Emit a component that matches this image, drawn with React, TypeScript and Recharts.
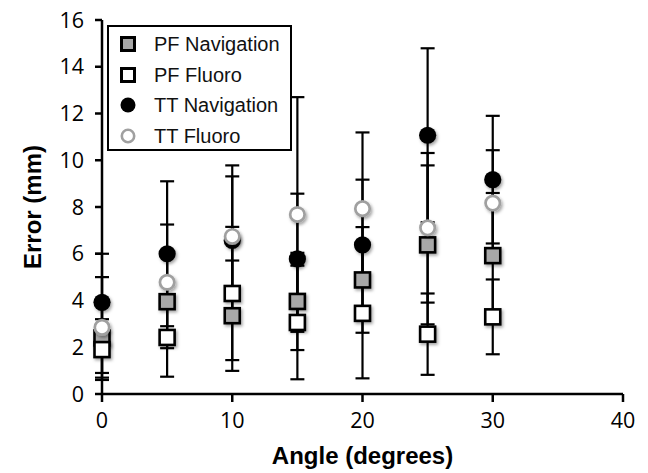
import React from "react";
import { ScatterChart, Scatter, XAxis, YAxis, ErrorBar, Legend, Label } from "recharts";

// values (mean and SD per angle)
const angles = [0, 5, 10, 15, 20, 25, 30];
const pfNavMean = [2.4, 3.95, 3.35, 3.96, 4.88, 6.38, 5.92];
const pfNavSd = [1.5, 1.99, 2.36, 2.08, 2.26, 3.4, 2.68];
const pfFluoroMean = [1.9, 2.42, 4.3, 3.06, 3.45, 2.56, 3.3];
const pfFluoroSd = [1.3, 1.68, 2.85, 2.43, 2.78, 1.74, 1.6];
const ttNavMean = [3.92, 6.0, 6.57, 5.78, 6.38, 11.07, 9.17];
const ttNavSd = [2.08, 3.1, 3.21, 2.79, 2.79, 3.72, 2.73];
const ttFluoroMean = [2.85, 4.78, 6.74, 7.68, 7.93, 7.11, 8.17];
const ttFluoroSd = [2.15, 2.47, 2.57, 5.02, 3.26, 3.2, 2.26];

const xTicks = [0, 10, 20, 30, 40];
const yTicks = [0, 2, 4, 6, 8, 10, 12, 14, 16];

const toPoints = (means: number[], sds: number[]) =>
  angles.map((a, i) => ({ x: a, y: means[i], err: sds[i] }));

interface SeriesDef {
  name: string;
  points: { x: number; y: number; err: number }[];
  kind: "square" | "circle";
  fill: string;
  stroke: string;
}

const series: SeriesDef[] = [
  { name: "PF Navigation", points: toPoints(pfNavMean, pfNavSd), kind: "square", fill: "#a8a8a8", stroke: "#000" },
  { name: "PF Fluoro", points: toPoints(pfFluoroMean, pfFluoroSd), kind: "square", fill: "#fff", stroke: "#000" },
  { name: "TT Navigation", points: toPoints(ttNavMean, ttNavSd), kind: "circle", fill: "#000", stroke: "#000" },
  { name: "TT Fluoro", points: toPoints(ttFluoroMean, ttFluoroSd), kind: "circle", fill: "#fff", stroke: "#a0a0a0" },
];

const makeShape = (s: SeriesDef) => (props: any) => {
  const { cx, cy } = props;
  if (cx == null || cy == null) return <g />;
  if (s.kind === "square") {
    return (
      <rect x={cx - 7.5} y={cy - 7.5} width={15} height={15} fill={s.fill} stroke={s.stroke}
        strokeWidth={2.6} filter="url(#mshadow)" />
    );
  }
  const filled = s.fill === s.stroke;
  return (
    <circle cx={cx} cy={cy} r={filled ? 8.6 : 7.2} fill={s.fill} stroke={s.stroke}
      strokeWidth={filled ? 0 : 2.7} filter="url(#mshadow)" />
  );
};

const emptyShape = () => <g />;

const LegendMarker = ({ s }: { s: SeriesDef }) => (
  <svg width={16} height={16} style={{ display: "block" }}>
    {s.kind === "square" ? (
      <rect x={1.5} y={1.5} width={13} height={13} fill={s.fill} stroke={s.stroke} strokeWidth={3} />
    ) : s.fill === s.stroke ? (
      <circle cx={8} cy={8} r={7.5} fill={s.fill} />
    ) : (
      <circle cx={8} cy={8} r={6.2} fill={s.fill} stroke={s.stroke} strokeWidth={2.6} />
    )}
  </svg>
);

const LegendBox = () => (
  <div
    style={{
      width: 181,
      height: 120,
      border: "2px solid #000",
      background: "#fff",
      paddingTop: 1.5,
      boxSizing: "content-box",
      fontFamily: "'Liberation Sans', Arial, sans-serif",
      fontSize: 20,
      color: "#111",
    }}
  >
    {series.map((s) => (
      <div key={s.name} style={{ height: 30.7, display: "flex", alignItems: "center", paddingLeft: 11 }}>
        <LegendMarker s={s} />
        <span style={{ marginLeft: 18, lineHeight: "20px" }}>{s.name}</span>
      </div>
    ))}
  </div>
);

const XTitle = (props: any) => {
  const vb = props.viewBox || {};
  return (
    <text x={vb.x + vb.width / 2} y={vb.y + vb.height - 9} textAnchor="middle"
      style={{ fontFamily: "'Liberation Sans', Arial, sans-serif", fontWeight: 700, fontSize: 24 }} fill="#000">
      Angle (degrees)
    </text>
  );
};

const YTitle = (props: any) => {
  const vb = props.viewBox || {};
  const cx = vb.x + 32;
  const cy = vb.y + vb.height / 2;
  return (
    <text x={cx} y={cy} textAnchor="middle" dominantBaseline="central" transform={`rotate(-90 ${cx} ${cy})`}
      style={{ fontFamily: "'Liberation Sans', Arial, sans-serif", fontWeight: 700, fontSize: 24 }} fill="#000">
      Error (mm)
    </text>
  );
};

const tickStyle = { fill: "#000", fontSize: 21.5, fontFamily: "'Open Sans', sans-serif" };
const axisStroke = { stroke: "#000", strokeWidth: 2.5 };

export default function App() {
  return (
    <div style={{ position: "absolute", left: 0, top: 0, width: 648, height: 473, background: "#fff" }}>
      <svg width={0} height={0} style={{ position: "absolute" }}>
        <defs>
          <filter id="mshadow" x="-50%" y="-50%" width="200%" height="200%">
            <feDropShadow dx={1.5} dy={2} stdDeviation={1.5} floodColor="#000" floodOpacity={0.35} />
          </filter>
        </defs>
      </svg>
      <ScatterChart width={648} height={473} margin={{ top: 20, right: 25, bottom: 0, left: 0 }}>
        <XAxis type="number" dataKey="x" domain={[0, 40]} ticks={xTicks} height={79} tickSize={8}
          tickMargin={11} tick={tickStyle} axisLine={axisStroke} tickLine={axisStroke}>
          <Label content={XTitle} />
        </XAxis>
        <YAxis type="number" dataKey="y" domain={[0, 16]} ticks={yTicks} width={102} tickSize={7}
          tickMargin={11} tick={tickStyle} axisLine={axisStroke} tickLine={axisStroke}>
          <Label content={YTitle} />
        </YAxis>
        <XAxis xAxisId="top" orientation="top" type="number" domain={[0, 40]} height={0} tick={false}
          tickLine={false} axisLine={{ stroke: "#222", strokeWidth: 2 }} />
        <YAxis yAxisId="right" orientation="right" type="number" domain={[0, 16]} width={0} tick={false}
          tickLine={false} axisLine={{ stroke: "#222", strokeWidth: 2 }} />
        {/* error bars first so every marker sits on top of them */}
        {series.map((s) => (
          <Scatter key={"err-" + s.name} name={"err-" + s.name} data={s.points} shape={emptyShape}
            legendType="none" isAnimationActive={false}>
            <ErrorBar dataKey="err" direction="y" width={7} stroke="#000" strokeWidth={2.2} />
          </Scatter>
        ))}
        {series.map((s) => (
          <Scatter key={s.name} name={s.name} data={s.points} shape={makeShape(s)} fill={s.fill}
            isAnimationActive={false} />
        ))}
        <Legend layout="vertical" align="center" verticalAlign="middle" content={() => <LegendBox />}
          wrapperStyle={{ left: 107, top: 25, width: "auto", height: "auto" }} />
      </ScatterChart>
    </div>
  );
}
